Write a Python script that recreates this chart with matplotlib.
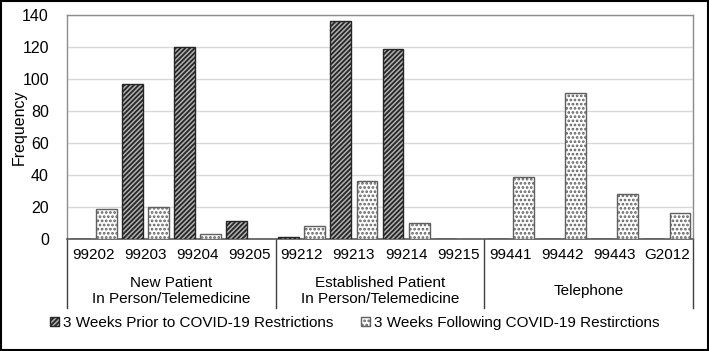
import matplotlib
matplotlib.use("Agg")
import matplotlib.pyplot as plt
import matplotlib.transforms as mtransforms
from matplotlib.patches import Patch, Rectangle
from matplotlib.lines import Line2D
import numpy as np

plt.rcParams['font.family'] = ['Liberation Sans', 'DejaVu Sans']
plt.rcParams['hatch.linewidth'] = 1.3

codes = ["99202", "99203", "99204", "99205", "99212", "99213", "99214", "99215",
         "99441", "99442", "99443", "G2012"]
groups = ["New Patient\nIn Person/Telemedicine",
          "Established Patient\nIn Person/Telemedicine",
          "Telephone"]
group_sizes = [4, 4, 4]
prior = [0, 97, 120, 11, 1, 136, 119, 0, 0, 0, 0, 0]
following = [19, 20, 3, 0, 8, 36, 10, 0, 39, 91, 28, 16]
series_names = ["3 Weeks Prior to COVID-19 Restrictions",
                "3 Weeks Following COVID-19 Restirctions"]
yticks = [0, 20, 40, 60, 80, 100, 120, 140]

FS = 11
W, H = 709, 351
fig = plt.figure(figsize=(W / 100, H / 100), dpi=100)
ax = fig.add_axes([67 / W, 1 - 239 / H, (693 - 67) / W, (239 - 15) / H])

x = np.arange(len(codes))
bw = 0.4
off = 0.25
prior_style = dict(facecolor='#b0b0b0', edgecolor='#262626', hatch='///////', linewidth=1.0)
follow_style = dict(facecolor='white', edgecolor='#606060', hatch='....', linewidth=1.0)
ax.bar(x - off, prior, bw, zorder=3, **prior_style)
ax.bar(x + off, following, bw, zorder=3, **follow_style)

ax.set_xlim(-0.5, len(codes) - 0.5)
ax.set_ylim(0, 140)
ax.set_yticks(yticks)
ax.set_yticklabels([str(v) for v in yticks], fontsize=FS + 0.5)
ax.yaxis.grid(True, color='#d9d9d9', linewidth=1.0, zorder=0)
ax.set_axisbelow(True)
ax.tick_params(axis='y', length=0, pad=13)
ax.set_xticks([])
for s in ['top', 'right', 'left']:
    ax.spines[s].set_color('#8c8c8c')
    ax.spines[s].set_linewidth(1.0)
ax.spines['bottom'].set_color('#595959')
ax.spines['bottom'].set_linewidth(1.2)
ax.set_ylabel("Frequency", fontsize=FS + 0.5)
ax.yaxis.set_label_coords((27 - 67) / 626, 0.5)

trans = mtransforms.blended_transform_factory(ax.transData, ax.transAxes)
pxh = 224.0
for i, c in enumerate(codes):
    ax.text(i, -(255 - 239) / pxh, c, transform=trans, ha='center', va='center',
            fontsize=FS)

start = 0
bounds = [-0.5]
for g, n in zip(groups, group_sizes):
    center = start + (n - 1) / 2
    ax.text(center, -(291 - 239) / pxh, g, transform=trans, ha='center',
            va='center', fontsize=FS, linespacing=1.25)
    start += n
    bounds.append(start - 0.5)
for b in bounds:
    ax.add_line(Line2D([b, b], [0, -(308 - 239) / pxh], transform=trans,
                       color='#404040', linewidth=1.0, clip_on=False))

handles = [Patch(**prior_style), Patch(**follow_style)]
fig.legend(handles, series_names, loc='center', bbox_to_anchor=(0.5, 1 - 323 / H),
           ncol=2, frameon=False, fontsize=FS, handlelength=0.6, handleheight=0.6,
           handletextpad=0.25, columnspacing=1.8)

fig.patches.append(Rectangle((1 / W, 1 / H), 1 - 2 / W, 1 - 2 / H, transform=fig.transFigure,
                             fill=False, edgecolor='black', linewidth=1.5))

fig.savefig("out.png", dpi=100)
